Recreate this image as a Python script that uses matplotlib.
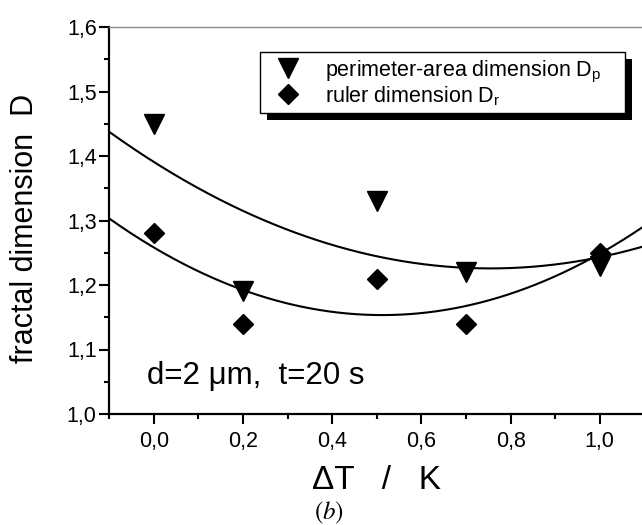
import numpy as np
import matplotlib
matplotlib.use("Agg")
import matplotlib.pyplot as plt
from matplotlib.ticker import FuncFormatter, MultipleLocator
from matplotlib.patches import Rectangle

plt.rcParams['font.family'] = ['Liberation Sans', 'DejaVu Sans']
plt.rcParams['mathtext.fontset'] = 'stix'

# temperature difference (K)
delta_T = [0.0, 0.2, 0.5, 0.7, 1.0]
# perimeter-area dimension D_p
D_p = [1.45, 1.19, 1.33, 1.22, 1.23]
# ruler dimension D_r
D_r = [1.28, 1.14, 1.21, 1.14, 1.25]

x_ticks = [0.0, 0.2, 0.4, 0.6, 0.8, 1.0]
y_ticks = [1.0, 1.1, 1.2, 1.3, 1.4, 1.5, 1.6]

W, H = 642, 525
fig = plt.figure(figsize=(W / 100, H / 100), dpi=100)
ax = fig.add_axes([109.2 / W, 1 - 414 / H, 535.2 / W, 387 / H])

ax.set_xlim(-0.1, 1.1)
ax.set_ylim(1.0, 1.6)

# quadratic fits through each series
xf = np.linspace(-0.1, 1.1, 300)
for ys in (D_p, D_r):
    c = np.polyfit(delta_T, ys, 2)
    ax.plot(xf, np.polyval(c, xf), color='black', lw=1.5, zorder=2)

ax.plot(delta_T, D_p, linestyle='none', marker='v', ms=14, color='black',
        label='perimeter-area dimension D$_\\mathregular{p}$', zorder=3)
ax.plot(delta_T, D_r, linestyle='none', marker='D', ms=10, color='black',
        label='ruler dimension D$_\\mathregular{r}$', zorder=3)

comma = FuncFormatter(lambda v, p: f"{v:.1f}".replace('.', ','))
ax.set_xticks(x_ticks)
ax.set_yticks(y_ticks)
ax.xaxis.set_major_formatter(comma)
ax.yaxis.set_major_formatter(comma)
ax.xaxis.set_minor_locator(MultipleLocator(0.1))
ax.yaxis.set_minor_locator(MultipleLocator(0.05))
ax.tick_params(which='major', direction='out', length=7, width=1.5,
               labelsize=15.5)
ax.tick_params(which='minor', direction='out', length=3.5, width=1.5)
ax.tick_params(axis='x', which='major', pad=5)
ax.tick_params(axis='y', which='major', pad=2)

for s in ('left', 'bottom'):
    ax.spines[s].set_linewidth(1.6)
ax.spines['right'].set_visible(False)
ax.spines['top'].set_linewidth(1.0)
ax.spines['top'].set_color('#888888')

ax.set_xlabel('\u0394T   /   K', fontsize=24)
ax.xaxis.set_label_coords(0.5, -0.132)
ax.set_ylabel('fractal dimension  D', fontsize=22)
ax.yaxis.set_label_coords(-0.13, 0.48)

ax.text(-0.015, 1.046, 'd=2 \u03bcm,  t=20 s', fontsize=22.5,
        ha='left', va='baseline')

leg = ax.legend(loc='upper left', bbox_to_anchor=(0.2818, 0.9356),
                borderaxespad=0, fontsize=15.5, frameon=False,
                labelspacing=0.0, handlelength=2.0, handletextpad=0.7,
                borderpad=0.3)
leg.set_zorder(6)

# legend box with a drop shadow, extended to the right edge of the box
fig.canvas.draw()
bb = leg.get_window_extent()
x0, y0, y1 = bb.x0, bb.y0, bb.y1
x1 = 625.0
off = 7
ax.add_patch(Rectangle((x0 + off, y0 - off), x1 - x0, y1 - y0,
                       transform=None, facecolor='black',
                       edgecolor='none', zorder=4, clip_on=False))
ax.add_patch(Rectangle((x0, y0), x1 - x0, y1 - y0,
                       transform=None, facecolor='white',
                       edgecolor='black', lw=1.0, zorder=5, clip_on=False))

fig.text(329 / W, 1 - 513 / H, '$(b)$', fontsize=18, ha='center', va='center')

fig.savefig('out.png', dpi=100)
